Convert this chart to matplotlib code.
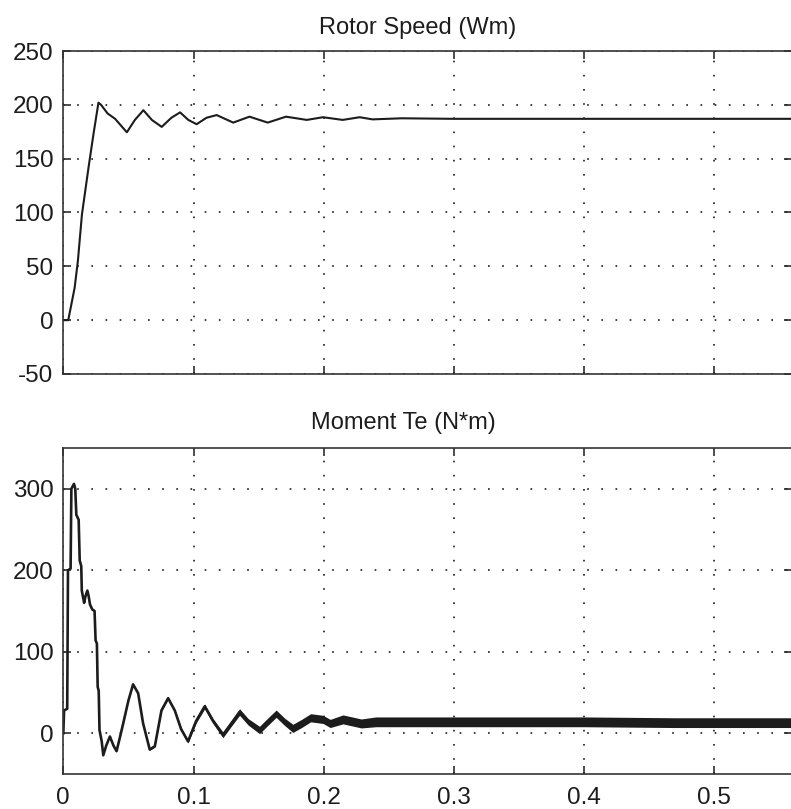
import numpy as np
import matplotlib
matplotlib.use("Agg")
import matplotlib.pyplot as plt

plt.rcParams['font.family'] = ['Liberation Sans', 'DejaVu Sans']
plt.rcParams['axes.unicode_minus'] = False

# rotor speed, rad/s
speed_t = [0.0, 0.0038, 0.0087, 0.0112, 0.0143, 0.0194, 0.0232, 0.0270, 0.0290,
           0.0340, 0.0398, 0.0488, 0.0550, 0.0615, 0.0680, 0.0756, 0.0830, 0.0897,
           0.0960, 0.1024, 0.1100, 0.1178, 0.1305, 0.1430, 0.1570, 0.1710, 0.1870,
           0.1995, 0.2146, 0.2276, 0.2375, 0.2600, 0.3000, 0.5600]
speed_w = [0, 0, 30, 55, 98, 142, 173, 202, 200,
           192, 187, 174.5, 186, 195, 186, 179.5, 188, 193,
           186, 182, 188, 190.5, 183.5, 189, 183.5, 189, 186,
           188.5, 186, 188.5, 186.5, 187.5, 187, 187]

# electromagnetic torque, N*m (centre of trace and half-width of the ripple band)
te_t = [0.0, 0.0006, 0.0030, 0.0036, 0.0056, 0.0062, 0.0082, 0.0092, 0.0100,
        0.0118, 0.0126, 0.0138, 0.0142, 0.0160, 0.0170, 0.0185, 0.0195, 0.0205,
        0.0222, 0.0240, 0.0248, 0.0258, 0.0264, 0.0272, 0.0278, 0.0295, 0.0307,
        0.0330, 0.0358, 0.0385, 0.0409, 0.0435, 0.0460, 0.0500, 0.0536, 0.0575,
        0.0613, 0.0664, 0.0703, 0.0754, 0.0805, 0.0856, 0.0905, 0.0958, 0.1020,
        0.1086, 0.1150, 0.1226, 0.1290, 0.1354, 0.1420, 0.1507, 0.1570, 0.1635,
        0.1700, 0.1763, 0.1830, 0.1900, 0.1995, 0.2050, 0.2148, 0.2289, 0.2400,
        0.3000, 0.4000, 0.4700, 0.5600]
te = [0, 28, 30, 200, 202, 300, 306, 300, 268,
      262, 212, 205, 175, 160, 168, 175, 168, 158,
      152, 150, 114, 110, 57, 52, 4, -10, -27,
      -15, -4, -15, -22, -5, 12, 40, 60, 49,
      12, -20, -16, 28, 43, 28, 5, -10, 15,
      33, 15, -2, 12, 26, 14, 4, 14, 24,
      14, 6, 12, 19, 17, 12, 17, 12, 14,
      14, 14, 13, 13]
te_spread = [0, 0, 0, 0, 0, 0, 0, 0, 0,
             0, 0, 0, 0, 0, 0, 0, 0, 0,
             0, 0, 0, 0, 0, 0, 0, 0, 0,
             0, 0, 0, 0, 0, 0, 0, 0.8, 0.8,
             0.8, 0.8, 1, 1, 1.5, 1.5, 2, 2, 2.5,
             3, 3, 3.5, 3.5, 4, 4, 4.5, 4.5, 4.5,
             4.5, 5, 5, 5, 5, 5, 5.5, 5.5, 6,
             6, 6, 6, 6]

xticks = [0, 0.1, 0.2, 0.3, 0.4, 0.5]
xlabels = ['0', '0.1', '0.2', '0.3', '0.4', '0.5']

fig = plt.figure(figsize=(7.91, 8.09), dpi=100)
W, H = 791.0, 809.0
x0 = 63.3
x1 = 63.3 + 0.56 * 1302.0
ax1 = fig.add_axes([x0 / W, 1 - 374 / H, (x1 - x0) / W, (374 - 51) / H])
ax2 = fig.add_axes([x0 / W, 1 - 774 / H, (x1 - x0) / W, (774 - 448) / H])

ink = '#1c1c1c'
for ax in (ax1, ax2):
    ax.set_xlim(0, 0.56)
    ax.set_xticks(xticks)
    ax.grid(True, color=ink, linestyle=(0, (1, 7.5)), linewidth=1.2)
    ax.tick_params(direction='in', length=5.5, width=1.1, colors=ink,
                   top=True, right=True, labelsize=17.5, pad=7)
    ax.tick_params(axis='x', pad=9)
    for s in ax.spines.values():
        s.set_linewidth(1.2)
        s.set_color('#333333')

ax1.plot(speed_t, speed_w, color=ink, linewidth=1.5)
ax1.set_ylim(-50, 250)
ax1.set_yticks([-50, 0, 50, 100, 150, 200, 250])
ax1.set_xticklabels([])
ax1.text(0.486, 1.0 + 17 / 323, 'Rotor Speed (Wm)', transform=ax1.transAxes,
         ha='center', va='baseline', fontsize=17, color=ink)

te_arr = np.array(te, dtype=float)
spread = np.array(te_spread, dtype=float)
ax2.fill_between(te_t, te_arr - spread, te_arr + spread, color=ink, linewidth=0)
ax2.plot(te_t, te_arr, color=ink, linewidth=1.9)
ax2.set_ylim(-50, 350)
ax2.set_yticks([0, 100, 200, 300])
ax2.set_xticklabels(xlabels)
ax2.text(0.467, 1.0 + 19 / 326, 'Moment Te (N*m)', transform=ax2.transAxes,
         ha='center', va='baseline', fontsize=17, color=ink)

fig.savefig('out.png', dpi=100)
